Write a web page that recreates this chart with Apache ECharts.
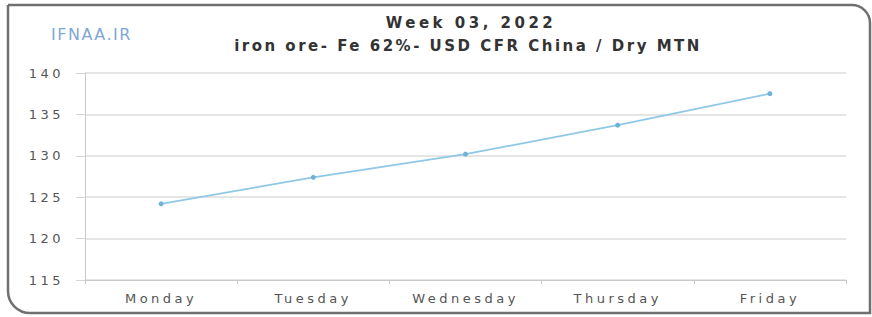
<!DOCTYPE html>
<html lang="en">

<head>
    <meta charset="UTF-8">
    <title>Iron ore Week 03</title>
    <script src="https://cdn.jsdelivr.net/npm/echarts@6/dist/echarts.min.js"></script>
    <style>
        html, body { margin: 0; padding: 0; background: #fff; }
        /* the original picture has wide, spaced-out lettering */
        #main svg text { letter-spacing: 2px; }
    </style>
</head>

<body>
    <div id="main" style="width:872px;height:317px;"></div>

    <script>
        var myChart = echarts.init(document.getElementById('main'), null, { renderer: 'svg' });

        // days of week 03, 2022
        var days = ['Monday', 'Tuesday', 'Wednesday', 'Thursday', 'Friday'];
        // price, USD / dry MTN
        var prices = [124.2, 127.4, 130.2, 133.7, 137.5];
        var yMin = 115;
        var yMax = 140;
        var yStep = 5;

        var titleText = 'Week 03, 2022';
        var subText = 'iron ore- Fe 62%- USD CFR China / Dry MTN';
        var brandText = 'IFNAA.IR';

        var option = {
            backgroundColor: '#ffffff',
            animation: false,
            title: [{
                text: titleText,
                left: 466,
                top: 10,
                textAlign: 'center',
                textStyle: {
                    fontFamily: 'DejaVu Sans',
                    fontWeight: 'bold',
                    fontSize: 15,
                    color: '#333333'
                }
            }, {
                text: subText,
                left: 463,
                top: 33,
                textAlign: 'center',
                textStyle: {
                    fontFamily: 'DejaVu Sans',
                    fontWeight: 'bold',
                    fontSize: 15,
                    color: '#333333'
                }
            }, {
                text: brandText,
                left: 46,
                top: 21,
                textStyle: {
                    fontFamily: 'DejaVu Sans',
                    fontWeight: 'normal',
                    fontSize: 16,
                    color: '#7fa7d6'
                }
            }],
            graphic: [{
                type: 'rect',
                shape: { x: 8, y: 5, width: 862, height: 308, r: [0, 18, 0, 22] },
                style: { fill: 'none', stroke: '#707070', lineWidth: 2.5 },
                silent: true
            }],
            grid: {
                left: 85,
                right: 26,
                top: 73,
                bottom: 37
            },
            xAxis: {
                type: 'category',
                data: days,
                boundaryGap: true,
                axisLine: { lineStyle: { color: '#c8c8c8' } },
                axisTick: { show: true, length: 4, lineStyle: { color: '#c8c8c8' } },
                axisLabel: {
                    margin: 12,
                    fontFamily: 'DejaVu Sans',
                    fontSize: 13,
                    color: '#555555'
                },
                splitLine: { show: false }
            },
            yAxis: {
                type: 'value',
                min: yMin,
                max: yMax,
                interval: yStep,
                axisLine: { show: true, lineStyle: { color: '#c8c8c8' } },
                axisTick: { show: true, length: 9, lineStyle: { color: '#d6d6d6' } },
                axisLabel: {
                    margin: 21,
                    fontFamily: 'DejaVu Sans',
                    fontSize: 13,
                    color: '#555555'
                },
                splitLine: { show: true, lineStyle: { color: '#dcdcdc', width: 1.5 } }
            },
            series: [{
                type: 'line',
                data: prices,
                symbol: 'circle',
                symbolSize: 5,
                lineStyle: { color: '#8ec8e6', width: 1.8 },
                itemStyle: { color: '#6fb2d6' }
            }]
        };
        myChart.setOption(option);

        // spread letters a bit more per kind of text
        function spreadText() {
            var nodes = document.querySelectorAll('#main svg text');
            nodes.forEach(function (el) {
                var t = el.textContent;
                var sp = '3.5px';
                if (t === titleText) sp = '3.5px';
                else if (t === subText) sp = '2.5px';
                else if (t === brandText) sp = '1.5px';
                el.style.letterSpacing = sp;
            });
        }
        spreadText();
        myChart.on('finished', spreadText);
    </script>

</body>

</html>
